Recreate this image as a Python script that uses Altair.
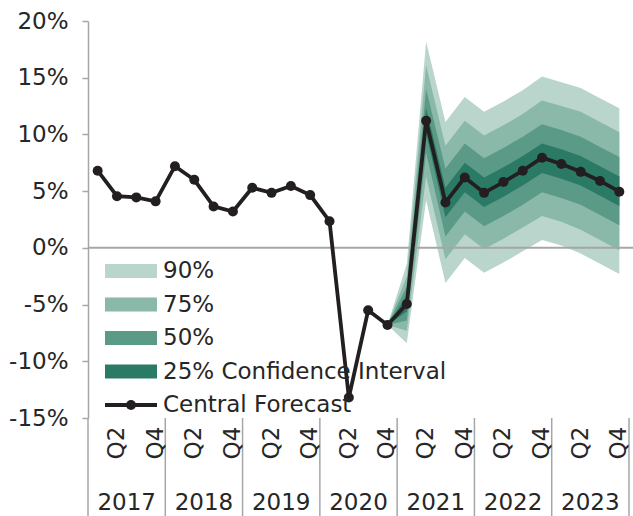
import altair as alt
import pandas as pd

# Quarterly GDP growth (%, year on year): 2017 Q1 .. 2023 Q4
years = [2017, 2018, 2019, 2020, 2021, 2022, 2023]
quarters = ["Q1", "Q2", "Q3", "Q4"]
central = [6.8, 4.55, 4.45, 4.1, 7.2, 6.0, 3.65, 3.2, 5.3, 4.85, 5.45, 4.65,
           2.35, -13.2, -5.5, -6.8, -4.95, 11.2, 4.0, 6.2, 4.85, 5.8, 6.8,
           7.95, 7.4, 6.7, 5.9, 4.95]

# Fan chart bands, from 2020 Q4 to 2023 Q4
fan_start = 15
lo90 = [-6.8, -8.4, 4.2, -3.1, -0.9, -2.2, -1.3, -0.3, 0.7, 0.2, -0.5, -1.4, -2.3]
hi90 = [-6.8, -1.4, 18.2, 11.1, 13.3, 12.0, 12.9, 13.9, 15.1, 14.6, 14.1, 13.2, 12.3]
lo75 = [-6.8, -7.3, 6.3, -1.0, 1.2, -0.1, 0.8, 1.8, 2.8, 2.3, 1.6, 0.7, -0.2]
hi75 = [-6.8, -2.5, 16.1, 9.0, 11.2, 9.9, 10.8, 11.8, 13.0, 12.5, 12.0, 11.1, 10.2]
lo50 = [-6.8, -6.4, 8.4, 1.0, 3.2, 1.9, 2.8, 3.8, 4.9, 4.4, 3.8, 2.9, 2.0]
hi50 = [-6.8, -3.4, 14.0, 7.0, 9.2, 7.9, 8.8, 9.8, 10.9, 10.4, 9.8, 8.9, 8.0]
lo25 = [-6.8, -5.6, 10.1, 2.7, 4.9, 3.6, 4.5, 5.5, 6.6, 6.1, 5.5, 4.6, 3.7]
hi25 = [-6.8, -4.2, 12.3, 5.3, 7.5, 6.2, 7.1, 8.1, 9.2, 8.7, 8.1, 7.2, 6.3]

band_labels = ["90%", "75%", "50%", "25% Confidence Interval"]
band_colors = ["#b9d5cc", "#8ab8a9", "#5b9a87", "#2b7a65"]
line_label = "Central Forecast"
line_color = "#231f20"
y_ticks = [-15, -10, -5, 0, 5, 10, 15, 20]

FONT = "DejaVu Sans"
FS = 23
TEXT = "#262626"
GREY = "#a6a6a6"
W, H = 541, 397

xscale = alt.Scale(domain=[-0.5, 27.5], nice=False, zero=False)
yscale = alt.Scale(domain=[-15, 20], nice=False, zero=False)
yaxis = alt.Axis(
    values=y_ticks, labelExpr="datum.value + '%'", title=None, grid=False,
    tickSize=6, tickColor=GREY, tickWidth=1.5, domainColor=GREY,
    domainWidth=1.5, labelPadding=14, labelFont=FONT, labelFontSize=FS,
    labelColor=TEXT)

hist = pd.DataFrame({"i": list(range(len(central))), "v": central})

layers = []

# Confidence bands, widest first
bands = [(lo90, hi90), (lo75, hi75), (lo50, hi50), (lo25, hi25)]
for (lo, hi), col in zip(bands, band_colors):
    df = pd.DataFrame({"i": [fan_start + k for k in range(len(lo))], "lo": lo, "hi": hi})
    layers.append(
        alt.Chart(df).mark_area(color=col, opacity=1, interpolate="linear").encode(
            x=alt.X("i:Q", scale=xscale, axis=None),
            y=alt.Y("lo:Q", scale=yscale, axis=yaxis),
            y2="hi:Q",
        )
    )

# zero line
layers.append(
    alt.Chart(pd.DataFrame({"z": [0]})).mark_rule(color=GREY, strokeWidth=2).encode(
        y=alt.Y("z:Q", scale=yscale, axis=yaxis),
        x=alt.value(0), x2=alt.value(W + 4),
    )
)

# central forecast line with markers
layers.append(
    alt.Chart(hist).mark_line(
        color=line_color, strokeWidth=3.8,
        point=alt.OverlayMarkDef(color=line_color, size=100, filled=True, opacity=1),
    ).encode(
        x=alt.X("i:Q", scale=xscale, axis=None),
        y=alt.Y("v:Q", scale=yscale, axis=yaxis),
    )
)

# category axis: year separators, quarter labels, year labels
seps = pd.DataFrame({"i": [-0.5 + 4 * k for k in range(len(years) + 1)]})
layers.append(
    alt.Chart(seps).mark_rule(color=GREY, strokeWidth=1.5).encode(
        x=alt.X("i:Q", scale=xscale, axis=None),
        y=alt.value(H), y2=alt.value(H + 98),
    )
)
qrows = []
for yi, yr in enumerate(years):
    for qi, q in enumerate(quarters):
        if q in ("Q2", "Q4"):
            qrows.append({"i": yi * 4 + qi, "q": q})
layers.append(
    alt.Chart(pd.DataFrame(qrows)).mark_text(
        angle=270, align="center", baseline="middle", font=FONT, fontSize=FS,
        color=TEXT,
    ).encode(
        x=alt.X("i:Q", scale=xscale, axis=None),
        y=alt.value(H + 25),
        text="q:N",
    )
)
layers.append(
    alt.Chart(pd.DataFrame({"i": [yi * 4 + 1.5 for yi in range(len(years))],
                            "yr": [str(y) for y in years]})).mark_text(
        align="center", baseline="middle", font=FONT, fontSize=FS, color=TEXT,
    ).encode(
        x=alt.X("i:Q", scale=xscale, axis=None),
        y=alt.value(H + 85),
        text="yr:N",
    )
)

# legend
row0, step = 250, 33.5
for k, (lab, col) in enumerate(zip(band_labels, band_colors)):
    cy = row0 + k * step
    layers.append(
        alt.Chart(pd.DataFrame({"t": [lab]})).mark_rect(color=col).encode(
            x=alt.value(17), x2=alt.value(69),
            y=alt.value(cy - 7), y2=alt.value(cy + 7),
        )
    )
    layers.append(
        alt.Chart(pd.DataFrame({"t": [lab]})).mark_text(
            align="left", baseline="middle", font=FONT, fontSize=FS, color=TEXT,
        ).encode(x=alt.value(75), y=alt.value(cy), text="t:N")
    )
cy = row0 + 4 * step
layers.append(
    alt.Chart(pd.DataFrame({"t": [line_label]})).mark_rule(
        color=line_color, strokeWidth=3.8).encode(
        x=alt.value(17), x2=alt.value(69), y=alt.value(cy),
    )
)
layers.append(
    alt.Chart(pd.DataFrame({"t": [line_label]})).mark_point(
        color=line_color, size=100, filled=True, opacity=1).encode(
        x=alt.value(43), y=alt.value(cy),
    )
)
layers.append(
    alt.Chart(pd.DataFrame({"t": [line_label]})).mark_text(
        align="left", baseline="middle", font=FONT, fontSize=FS, color=TEXT,
    ).encode(x=alt.value(75), y=alt.value(cy), text="t:N")
)

chart = alt.layer(*layers).properties(
    width=W, height=H,
    autosize=alt.AutoSizeParams(type="none"),
    padding={"left": 88, "top": 21, "right": 4, "bottom": 98},
).configure_view(stroke=None)

chart.save("out.html", embed_options={"renderer": "svg", "actions": False})
